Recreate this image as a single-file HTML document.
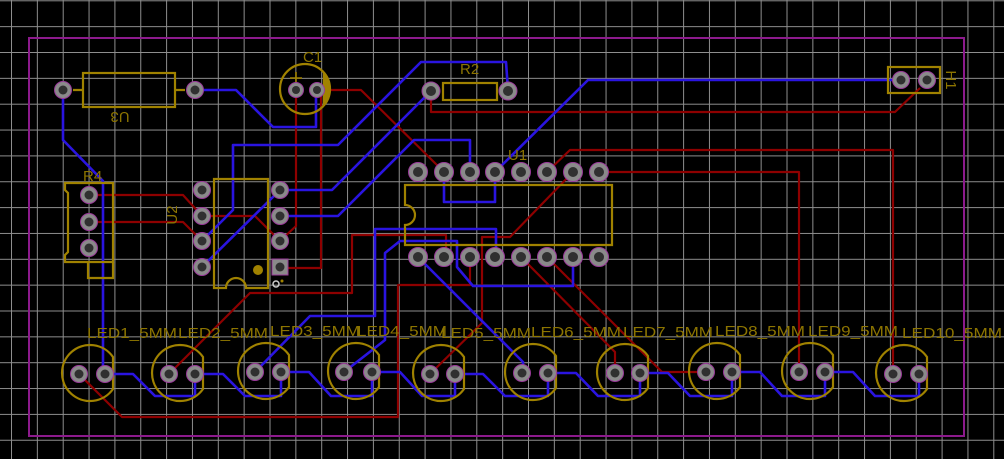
<!DOCTYPE html>
<html><head><meta charset="utf-8"><style>
html,body{margin:0;padding:0;background:#000;}
svg{display:block}
text{font-family:"Liberation Sans",sans-serif;}
</style></head><body>
<svg width="1004" height="459" viewBox="0 0 1004 459" xmlns="http://www.w3.org/2000/svg">
<rect width="1004" height="459" fill="#000"/>
<defs>
<pattern id="g" x="11" y="0.3" width="25.85" height="25.85" patternUnits="userSpaceOnUse">
<path d="M0 0V25.85M0 0H25.85" stroke="#8e8e8e" stroke-width="2" fill="none"/>
</pattern>
</defs>
<rect width="1004" height="459" fill="url(#g)"/>
<rect x="29" y="38" width="935" height="398" fill="none" stroke="#8c1a8c" stroke-width="2"/>

<g fill="none" stroke="#8e0000" stroke-width="2.2" stroke-linejoin="round">
<path d="M296 90V226L280 241"/>
<path d="M321 90V268H280"/>
<path d="M317 90H361L444 172"/>
<path d="M89 195H183L202 216H255L280 241"/>
<path d="M89 222H183L202 241"/>
<path d="M169 374L250 293H352V235H446V257"/>
<path d="M79 374L122 417H398V285H470V257"/>
<path d="M430 374L482 323V237H510L573 172"/>
<path d="M547 172L570 150H893V374"/>
<path d="M599 172H799V372"/>
<path d="M431 91V112H895L920 88"/>
<path d="M521 257L615 352V373"/>
<path d="M547 257L662 372H706"/>
</g>

<g fill="none" stroke="#2a14e0" stroke-width="2.6" stroke-linejoin="round">
<path d="M63 90V140L103 181V374"/>
<path d="M195 90H236L273 127H316V90"/>
<path d="M202 241L233 210V145H338L421 62H506L508 90"/>
<path d="M280 190H332L431 91"/>
<path d="M280 190L202 267"/>
<path d="M280 216H338L414 140H470V172"/>
<path d="M495 172L588 80H901"/>
<path d="M444 172V202H495V172"/>
<path d="M255 372L310 316H375V229H496V257"/>
<path d="M344 372L385 340V253L400 241H457V267L473 286H573V257"/>
<path d="M418 257L523 362V373"/>
<path d="M105 374H133L155 396H195V374H223L245 396H281V372H309L331 396H372V372H400L422 396H455V374H483L505 396H548V373H576L598 396H640V373H668L690 396H732V372H760L782 396H825V372H853L875 396H919V374"/>
</g>

<g fill="none" stroke="#a08200" stroke-width="2.2">
<rect x="83" y="73" width="92" height="34"/>
<path d="M73 90H83M175 90H185"/>
<circle cx="305" cy="89" r="25"/>
<path d="M324 73A25 25 0 0 1 324 105Z" fill="#a08200"/>
<path d="M290 78H302M296 72V84" stroke-width="1.6"/>
<rect x="443" y="83" width="54" height="17"/>
<rect x="888" y="67" width="52" height="26"/>
<path d="M65 183H113V262H65V255L68 252V193L65 190Z"/>
<path d="M88 262V278H113V262"/>
<path d="M214 179H268V288H246A10 10 0 0 0 226 288H214Z"/>
<path d="M405 185H612V245H405V225A10 10 0 0 0 405 205Z"/>
</g>
<circle cx="258" cy="270" r="5" fill="#a08200"/>
<circle cx="276" cy="284" r="3" fill="none" stroke="#ccc" stroke-width="1.5"/>
<circle cx="282" cy="281" r="1.5" fill="#a08200"/>

<g fill="none" stroke="#a08200" stroke-width="2.2">
<path d="M113 357A28 28 0 1 0 113 389Z"/>
<path d="M113 357A28 28 0 1 0 113 389Z" transform="translate(90,0)"/>
<path d="M113 357A28 28 0 1 0 113 389Z" transform="translate(176,-2)"/>
<path d="M113 357A28 28 0 1 0 113 389Z" transform="translate(266,-2)"/>
<path d="M113 357A28 28 0 1 0 113 389Z" transform="translate(351,0)"/>
<path d="M113 357A28 28 0 1 0 113 389Z" transform="translate(443,-1)"/>
<path d="M113 357A28 28 0 1 0 113 389Z" transform="translate(535,-1)"/>
<path d="M113 357A28 28 0 1 0 113 389Z" transform="translate(627,-2)"/>
<path d="M113 357A28 28 0 1 0 113 389Z" transform="translate(720,-2)"/>
<path d="M113 357A28 28 0 1 0 113 389Z" transform="translate(814,0)"/>
</g>

<g fill="#8a8a8a" stroke="#9a3a9a" stroke-width="1">
<circle cx="63" cy="90" r="8.5"/><circle cx="195" cy="90" r="8.5"/>
<circle cx="296" cy="90" r="7.5"/><circle cx="317" cy="90" r="7.5"/>
<circle cx="431" cy="91" r="9"/><circle cx="508" cy="91" r="9"/>
<circle cx="901" cy="80" r="8.5"/><circle cx="927" cy="80" r="8.5"/>
<circle cx="89" cy="195" r="8.5"/><circle cx="89" cy="222" r="8.5"/><circle cx="89" cy="248" r="8.5"/>
<circle cx="202" cy="190" r="8.5"/><circle cx="202" cy="216" r="8.5"/><circle cx="202" cy="241" r="8.5"/><circle cx="202" cy="267" r="8.5"/>
<circle cx="280" cy="190" r="8.5"/><circle cx="280" cy="216" r="8.5"/><circle cx="280" cy="241" r="8.5"/>
<rect x="272" y="259" width="16" height="16"/>
<circle cx="418" cy="172" r="9.5"/><circle cx="444" cy="172" r="9.5"/><circle cx="470" cy="172" r="9.5"/><circle cx="495" cy="172" r="9.5"/><circle cx="521" cy="172" r="9.5"/><circle cx="547" cy="172" r="9.5"/><circle cx="573" cy="172" r="9.5"/><circle cx="599" cy="172" r="9.5"/>
<circle cx="418" cy="257" r="9.5"/><circle cx="444" cy="257" r="9.5"/><circle cx="470" cy="257" r="9.5"/><circle cx="495" cy="257" r="9.5"/><circle cx="521" cy="257" r="9.5"/><circle cx="547" cy="257" r="9.5"/><circle cx="573" cy="257" r="9.5"/><circle cx="599" cy="257" r="9.5"/>
<circle cx="79" cy="374" r="8.5"/><circle cx="105" cy="374" r="8.5"/>
<circle cx="169" cy="374" r="8.5"/><circle cx="195" cy="374" r="8.5"/>
<circle cx="255" cy="372" r="8.5"/><circle cx="281" cy="372" r="8.5"/>
<circle cx="344" cy="372" r="8.5"/><circle cx="372" cy="372" r="8.5"/>
<circle cx="430" cy="374" r="8.5"/><circle cx="455" cy="374" r="8.5"/>
<circle cx="522" cy="373" r="8.5"/><circle cx="548" cy="373" r="8.5"/>
<circle cx="615" cy="373" r="8.5"/><circle cx="640" cy="373" r="8.5"/>
<circle cx="706" cy="372" r="8.5"/><circle cx="732" cy="372" r="8.5"/>
<circle cx="799" cy="372" r="8.5"/><circle cx="825" cy="372" r="8.5"/>
<circle cx="893" cy="374" r="8.5"/><circle cx="919" cy="374" r="8.5"/>
</g>
<g fill="#303030">
<circle cx="63" cy="90" r="4.5"/><circle cx="195" cy="90" r="4.5"/>
<circle cx="296" cy="90" r="4"/><circle cx="317" cy="90" r="4"/>
<circle cx="431" cy="91" r="5"/><circle cx="508" cy="91" r="5"/>
<circle cx="901" cy="80" r="4.5"/><circle cx="927" cy="80" r="4.5"/>
<circle cx="89" cy="195" r="4.5"/><circle cx="89" cy="222" r="4.5"/><circle cx="89" cy="248" r="4.5"/>
<circle cx="202" cy="190" r="4.5"/><circle cx="202" cy="216" r="4.5"/><circle cx="202" cy="241" r="4.5"/><circle cx="202" cy="267" r="4.5"/>
<circle cx="280" cy="190" r="4.5"/><circle cx="280" cy="216" r="4.5"/><circle cx="280" cy="241" r="4.5"/><circle cx="280" cy="267" r="4.5"/>
<circle cx="418" cy="172" r="5"/><circle cx="444" cy="172" r="5"/><circle cx="470" cy="172" r="5"/><circle cx="495" cy="172" r="5"/><circle cx="521" cy="172" r="5"/><circle cx="547" cy="172" r="5"/><circle cx="573" cy="172" r="5"/><circle cx="599" cy="172" r="5"/>
<circle cx="418" cy="257" r="5"/><circle cx="444" cy="257" r="5"/><circle cx="470" cy="257" r="5"/><circle cx="495" cy="257" r="5"/><circle cx="521" cy="257" r="5"/><circle cx="547" cy="257" r="5"/><circle cx="573" cy="257" r="5"/><circle cx="599" cy="257" r="5"/>
<circle cx="79" cy="374" r="4.5"/><circle cx="105" cy="374" r="4.5"/>
<circle cx="169" cy="374" r="4.5"/><circle cx="195" cy="374" r="4.5"/>
<circle cx="255" cy="372" r="4.5"/><circle cx="281" cy="372" r="4.5"/>
<circle cx="344" cy="372" r="4.5"/><circle cx="372" cy="372" r="4.5"/>
<circle cx="430" cy="374" r="4.5"/><circle cx="455" cy="374" r="4.5"/>
<circle cx="522" cy="373" r="4.5"/><circle cx="548" cy="373" r="4.5"/>
<circle cx="615" cy="373" r="4.5"/><circle cx="640" cy="373" r="4.5"/>
<circle cx="706" cy="372" r="4.5"/><circle cx="732" cy="372" r="4.5"/>
<circle cx="799" cy="372" r="4.5"/><circle cx="825" cy="372" r="4.5"/>
<circle cx="893" cy="374" r="4.5"/><circle cx="919" cy="374" r="4.5"/>
</g>

<g fill="#8c7400" font-size="15">
<text x="303" y="62">C1</text>
<text x="460" y="74">R2</text>
<text x="508" y="160">U1</text>
<text x="83" y="181">R4</text>
<text transform="translate(120,112) rotate(180)" text-anchor="middle">U3</text>
<text transform="translate(177,215) rotate(-90)" text-anchor="middle">U2</text>
<text transform="translate(946,80) rotate(90)" text-anchor="middle">H1</text>
<text x="87" y="338" textLength="90" lengthAdjust="spacingAndGlyphs">LED1_5MM</text>
<text x="178" y="338" textLength="90" lengthAdjust="spacingAndGlyphs">LED2_5MM</text>
<text x="270" y="336" textLength="90" lengthAdjust="spacingAndGlyphs">LED3_5MM</text>
<text x="357" y="336" textLength="90" lengthAdjust="spacingAndGlyphs">LED4_5MM</text>
<text x="441" y="338" textLength="90" lengthAdjust="spacingAndGlyphs">LED5_5MM</text>
<text x="531" y="337" textLength="90" lengthAdjust="spacingAndGlyphs">LED6_5MM</text>
<text x="623" y="337" textLength="90" lengthAdjust="spacingAndGlyphs">LED7_5MM</text>
<text x="715" y="336" textLength="90" lengthAdjust="spacingAndGlyphs">LED8_5MM</text>
<text x="808" y="336" textLength="90" lengthAdjust="spacingAndGlyphs">LED9_5MM</text>
<text x="902" y="338" textLength="100" lengthAdjust="spacingAndGlyphs">LED10_5MM</text>
</g>
</svg>
</body></html>
